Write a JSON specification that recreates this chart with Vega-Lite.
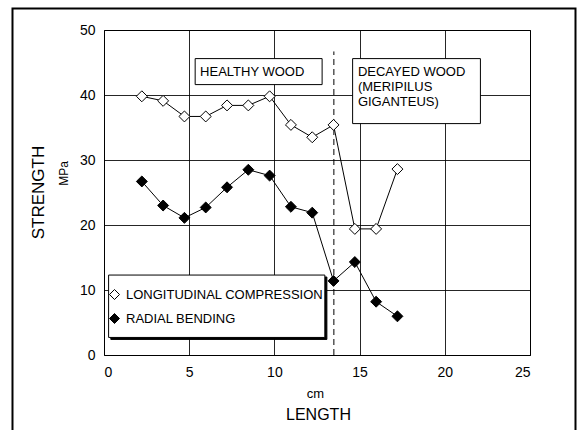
{
  "$schema": "https://vega.github.io/schema/vega-lite/v6.json",
  "width": 426,
  "height": 325,
  "autosize": {"type": "none"},
  "padding": {"left": 104, "top": 30, "right": 53, "bottom": 75},
  "background": "white",
  "config": {
    "font": "Liberation Sans",
    "view": {"stroke": "black", "strokeWidth": 1},
    "axis": {"labelColor": "black", "titleColor": "black", "titleFontWeight": "normal", "labelFont": "Liberation Sans", "titleFont": "Liberation Sans"}
  },
  "datasets": {
    "series": [
      {"series": "LONGITUDINAL COMPRESSION", "length": 2.22, "strength": 39.8},
      {"series": "LONGITUDINAL COMPRESSION", "length": 3.47, "strength": 39.1},
      {"series": "LONGITUDINAL COMPRESSION", "length": 4.72, "strength": 36.7},
      {"series": "LONGITUDINAL COMPRESSION", "length": 5.97, "strength": 36.7},
      {"series": "LONGITUDINAL COMPRESSION", "length": 7.22, "strength": 38.4},
      {"series": "LONGITUDINAL COMPRESSION", "length": 8.47, "strength": 38.4},
      {"series": "LONGITUDINAL COMPRESSION", "length": 9.72, "strength": 39.8},
      {"series": "LONGITUDINAL COMPRESSION", "length": 10.97, "strength": 35.4},
      {"series": "LONGITUDINAL COMPRESSION", "length": 12.22, "strength": 33.5},
      {"series": "LONGITUDINAL COMPRESSION", "length": 13.47, "strength": 35.4},
      {"series": "LONGITUDINAL COMPRESSION", "length": 14.72, "strength": 19.4},
      {"series": "LONGITUDINAL COMPRESSION", "length": 15.97, "strength": 19.4},
      {"series": "LONGITUDINAL COMPRESSION", "length": 17.22, "strength": 28.6},
      {"series": "RADIAL BENDING", "length": 2.22, "strength": 26.7},
      {"series": "RADIAL BENDING", "length": 3.47, "strength": 23.0},
      {"series": "RADIAL BENDING", "length": 4.72, "strength": 21.1},
      {"series": "RADIAL BENDING", "length": 5.97, "strength": 22.7},
      {"series": "RADIAL BENDING", "length": 7.22, "strength": 25.8},
      {"series": "RADIAL BENDING", "length": 8.47, "strength": 28.5},
      {"series": "RADIAL BENDING", "length": 9.72, "strength": 27.6},
      {"series": "RADIAL BENDING", "length": 10.97, "strength": 22.8},
      {"series": "RADIAL BENDING", "length": 12.22, "strength": 21.9},
      {"series": "RADIAL BENDING", "length": 13.47, "strength": 11.4},
      {"series": "RADIAL BENDING", "length": 14.72, "strength": 14.3},
      {"series": "RADIAL BENDING", "length": 15.97, "strength": 8.2},
      {"series": "RADIAL BENDING", "length": 17.22, "strength": 5.95}
    ],
    "shadow": [
      {"box": "legendshadow", "x": 0.4, "x2": 13.08, "y": 12.0, "y2": 2.4}
    ],
    "boxes": [
      {"box": "legend", "x": 0.27, "x2": 12.96, "y": 12.3, "y2": 2.7},
      {"box": "healthy", "x": 5.35, "x2": 12.8, "y": 45.6, "y2": 41.6},
      {"box": "decayed", "x": 14.59, "x2": 22.09, "y": 45.6, "y2": 35.6}
    ],
    "labels": [
      {"x": 5.64, "y": 43.6, "text": "HEALTHY WOOD"},
      {"x": 14.9, "y": 43.6, "text": "DECAYED  WOOD"},
      {"x": 14.9, "y": 41.3, "text": "(MERIPILUS"},
      {"x": 14.9, "y": 39.0, "text": "GIGANTEUS)"}
    ],
    "divider": [{"x": 13.49, "y": 0, "y2": 46.7}],
    "frame": [{"x": -5.37, "x2": 27.67, "y": 53.3, "y2": -16}]
  },
  "layer": [
    {
      "data": {"name": "frame"},
      "mark": {"type": "rect", "fill": null, "stroke": "black", "strokeWidth": 2, "clip": false},
      "encoding": {
        "x": {"field": "x", "type": "quantitative", "scale": {"domain": [0, 25], "nice": false, "zero": false}, "axis": null},
        "x2": {"field": "x2"},
        "y": {"field": "y", "type": "quantitative", "scale": {"domain": [0, 50], "nice": false, "zero": false}, "axis": null},
        "y2": {"field": "y2"}
      }
    },
    {
      "data": {"name": "shadow"},
      "mark": {"type": "rect", "fill": "black", "stroke": "black", "strokeWidth": 1},
      "encoding": {
        "x": {"field": "x", "type": "quantitative", "scale": {"domain": [0, 25], "nice": false}, "axis": null},
        "x2": {"field": "x2"},
        "y": {"field": "y", "type": "quantitative", "scale": {"domain": [0, 50], "nice": false}, "axis": null},
        "y2": {"field": "y2"}
      }
    },
    {
      "data": {"name": "boxes"},
      "mark": {"type": "rect", "fill": "white", "stroke": "black", "strokeWidth": 1},
      "encoding": {
        "x": {"field": "x", "type": "quantitative", "scale": {"domain": [0, 25], "nice": false}, "axis": null},
        "x2": {"field": "x2"},
        "y": {"field": "y", "type": "quantitative", "scale": {"domain": [0, 50], "nice": false}, "axis": null},
        "y2": {"field": "y2"}
      }
    },
    {
      "data": {"name": "divider"},
      "mark": {"type": "rule", "stroke": "black", "strokeWidth": 1, "strokeDash": [6, 4]},
      "encoding": {
        "x": {"field": "x", "type": "quantitative", "scale": {"domain": [0, 25], "nice": false}, "axis": null},
        "y": {"field": "y", "type": "quantitative", "scale": {"domain": [0, 50], "nice": false}, "axis": null},
        "y2": {"field": "y2"}
      }
    },
    {
      "data": {"name": "series"},
      "mark": {"type": "line", "stroke": "black", "strokeWidth": 1},
      "encoding": {
        "x": {"field": "length", "type": "quantitative", "scale": {"domain": [0, 25], "nice": false},
          "axis": {"orient": "bottom", "title": "cm", "labels": false, "ticks": false, "domain": false, "grid": false, "titleFontSize": 13, "titleX": 211, "titleY": 38, "titleBaseline": "middle", "titleAlign": "center"}},
        "y": {"field": "strength", "type": "quantitative", "scale": {"domain": [0, 50], "nice": false},
          "axis": {"orient": "left", "title": "MPa", "labels": false, "ticks": false, "domain": false, "grid": false, "titleFontSize": 12, "titleX": -41, "titleY": 143, "titleAngle": 270, "titleBaseline": "middle", "titleAlign": "center"}},
        "detail": {"field": "series", "type": "nominal"}
      }
    },
    {
      "data": {"name": "series"},
      "mark": {"type": "point", "shape": "diamond", "filled": true, "stroke": "black", "strokeWidth": 1, "size": 120, "opacity": 1},
      "encoding": {
        "x": {"field": "length", "type": "quantitative", "scale": {"domain": [0, 25], "nice": false},
          "axis": {"orient": "bottom", "title": "LENGTH", "values": [0, 5, 10, 15, 20, 25], "grid": true, "gridColor": "black", "gridOpacity": 0.85, "ticks": false, "domain": false, "labelFontSize": 14, "labelPadding": 10, "titleFontSize": 16, "titleX": 214, "titleY": 59, "titleBaseline": "middle", "titleAlign": "center"}},
        "y": {"field": "strength", "type": "quantitative", "scale": {"domain": [0, 50], "nice": false},
          "axis": {"orient": "left", "title": "STRENGTH", "values": [0, 10, 20, 30, 40, 50], "grid": true, "gridColor": "black", "gridOpacity": 0.85, "ticks": false, "domain": false, "labelFontSize": 14, "labelPadding": 9, "titleFontSize": 17, "titleX": -66, "titleY": 162, "titleAngle": 270, "titleBaseline": "middle", "titleAlign": "center"}},
        "fill": {"field": "series", "type": "nominal",
          "scale": {"domain": ["LONGITUDINAL COMPRESSION", "RADIAL BENDING"], "range": ["white", "black"]},
          "legend": {"orient": "none", "legendX": 4, "legendY": 258, "title": null, "symbolType": "diamond", "symbolSize": 100, "symbolStrokeColor": "black", "symbolStrokeWidth": 1, "labelFontSize": 13, "labelColor": "black", "labelOffset": 5, "rowPadding": 9, "padding": 0, "labelLimit": 400}}
      }
    },
    {
      "data": {"name": "labels"},
      "mark": {"type": "text", "align": "left", "baseline": "middle", "fontSize": 13, "color": "black"},
      "encoding": {
        "x": {"field": "x", "type": "quantitative", "scale": {"domain": [0, 25], "nice": false}, "axis": null},
        "y": {"field": "y", "type": "quantitative", "scale": {"domain": [0, 50], "nice": false}, "axis": null},
        "text": {"field": "text"}
      }
    }
  ],
  "resolve": {"axis": {"x": "independent", "y": "independent"}}
}
